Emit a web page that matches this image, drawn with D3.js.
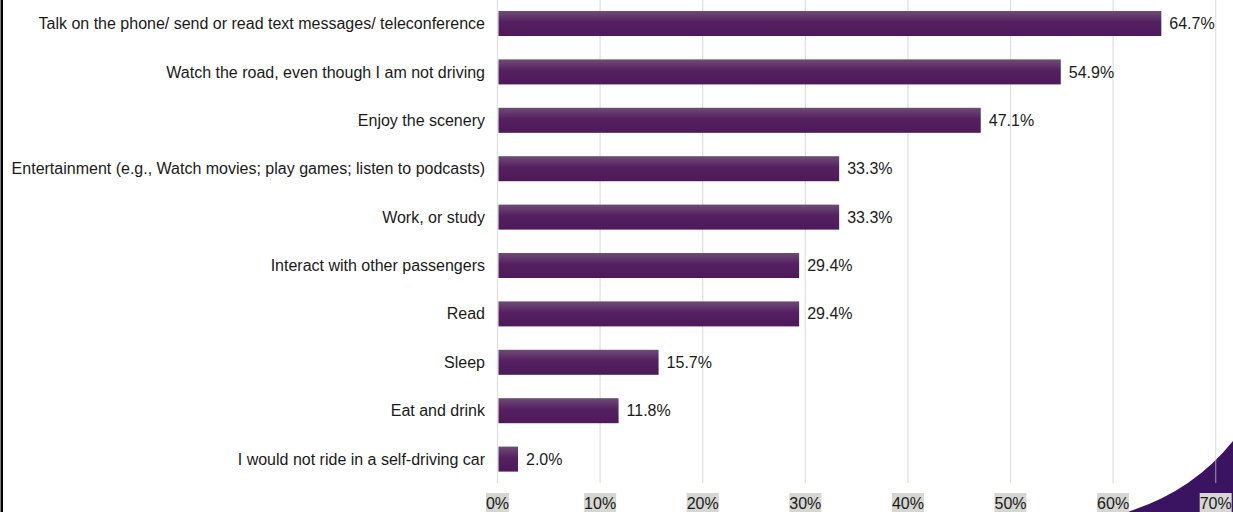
<!DOCTYPE html>
<html>
<head>
<meta charset="utf-8">
<script src="https://cdn.jsdelivr.net/npm/d3@7"></script>
<style>
  body { margin: 0; background: #fff; overflow: hidden; }
  svg { display: block; font-family: "Liberation Sans", Arial, sans-serif; }
</style>
</head>
<body>
<svg id="chart"></svg>
<script>
let categories = [
  'Talk on the phone/ send or read text messages/ teleconference',
  'Watch the road, even though I am not driving',
  'Enjoy the scenery',
  'Entertainment (e.g., Watch movies; play games; listen to podcasts)',
  'Work, or study',
  'Interact with other passengers',
  'Read',
  'Sleep',
  'Eat and drink',
  'I would not ride in a self-driving car'
];
let values = [64.7, 54.9, 47.1, 33.3, 33.3, 29.4, 29.4, 15.7, 11.8, 2.0];
let ticks = [0, 10, 20, 30, 40, 50, 60, 70];

function renderChart(svg) {
  let width = 1233;
  let height = 512;
  svg = d3.select(svg).attr('width', width).attr('height', height);

  let x = d3.scaleLinear().domain([0, 70]).range([497.5, 1215.7]);
  let y = d3
    .scaleBand()
    .domain(categories)
    .range([-0.7, 483.3])
    .paddingInner(0.483)
    .paddingOuter(0.2417);

  let defs = svg.append('defs');
  let grad = defs
    .append('linearGradient')
    .attr('id', 'barGrad')
    .attr('x1', 0).attr('y1', 0)
    .attr('x2', 0).attr('y2', 1);
  grad.append('stop').attr('offset', '0%').attr('stop-color', '#6d4d76');
  grad.append('stop').attr('offset', '45%').attr('stop-color', '#54205f');
  grad.append('stop').attr('offset', '100%').attr('stop-color', '#4e195a');

  // left border
  svg.append('rect')
    .attr('x', 0.5).attr('y', 0)
    .attr('width', 2.5).attr('height', height)
    .attr('fill', '#000');

  // decorative corner shape
  svg.append('path')
    .attr('d', 'M1127,512 Q1192,492 1233,441 L1233,512 Z')
    .attr('fill', '#3b1461');

  // gridlines
  svg.append('g')
    .selectAll('line')
    .data(ticks)
    .enter()
    .append('line')
    .attr('x1', d => x(d)).attr('x2', d => x(d))
    .attr('y1', 0).attr('y2', 483)
    .attr('stroke', '#c8c8c8')
    .attr('stroke-opacity', 0.6)
    .attr('stroke-width', 1.2);

  // bars
  svg.append('g')
    .selectAll('rect')
    .data(values)
    .enter()
    .append('rect')
    .attr('x', x(0) + 1)
    .attr('y', (d, i) => y(categories[i]))
    .attr('width', d => x(d) - x(0) - 1)
    .attr('height', y.bandwidth())
    .attr('fill', 'url(#barGrad)');

  // category labels
  svg.append('g')
    .selectAll('text')
    .data(categories)
    .enter()
    .append('text')
    .attr('x', 485)
    .attr('y', d => y(d) + y.bandwidth() / 2)
    .attr('dy', '0.35em')
    .attr('text-anchor', 'end')
    .attr('font-size', 16)
    .attr('fill', '#1a1a1a')
    .text(d => d);

  // value labels
  svg.append('g')
    .selectAll('text')
    .data(values)
    .enter()
    .append('text')
    .attr('x', d => x(d) + 8)
    .attr('y', (d, i) => y(categories[i]) + y.bandwidth() / 2)
    .attr('dy', '0.35em')
    .attr('font-size', 16)
    .attr('fill', '#1a1a1a')
    .text(d => d.toFixed(1) + '%');

  // axis labels with grey boxes
  let tickG = svg.append('g')
    .selectAll('g')
    .data(ticks)
    .enter()
    .append('g')
    .attr('transform', d => 'translate(' + x(d) + ',0)');

  tickG.append('text')
    .attr('y', 508.5)
    .attr('text-anchor', 'middle')
    .attr('font-size', 16)
    .attr('fill', '#1a1a1a')
    .text(d => d + '%')
    .each(function () {
      let b = this.getBBox();
      d3.select(this.parentNode)
        .insert('rect', 'text')
        .attr('x', b.x)
        .attr('y', 493)
        .attr('width', b.width)
        .attr('height', 22)
        .attr('fill', '#d6d6d2');
    });
}

renderChart(document.getElementById('chart'));
</script>
</body>
</html>
